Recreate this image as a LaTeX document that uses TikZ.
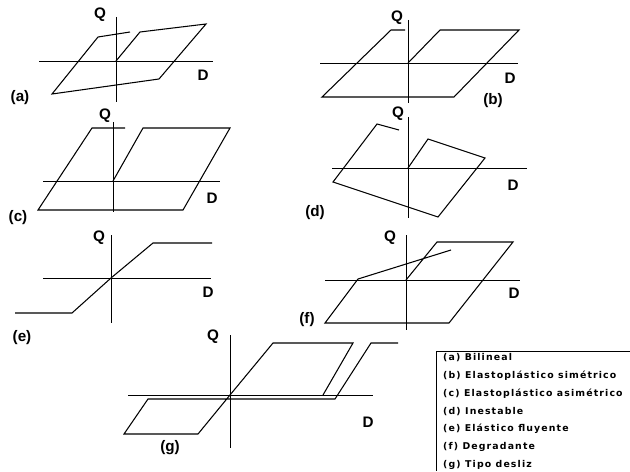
\documentclass[tikz,border=0pt]{standalone}
\usepackage{fontspec}
\setmainfont{Liberation Sans}
\newfontfamily\legfont[LetterSpace=12]{DejaVu Sans}
\usepackage{tikz}
\tikzset{
  axis/.style    = {line width=0.8pt},                 % Q and D axes
  curve/.style   = {line width=0.9pt, line join=miter},% hysteresis paths
  axlabel/.style = {font=\fontsize{13}{13}\selectfont\bfseries, inner sep=0pt},
  tag/.style     = {font=\fontsize{13}{13}\selectfont\bfseries, inner sep=0pt},
  legtext/.style = {font=\legfont\fontsize{8}{9}\selectfont\bfseries,
                    anchor=west, inner sep=0pt}
}

\begin{document}
\begin{tikzpicture}[x=0.3mm, y=-0.3mm]
  \useasboundingbox (0,0) rectangle (630,471);
  % (a) bilineal
  \draw[axis] (116,17) -- (116,102);
  \draw[axis] (39,61) -- (213,61);
  \draw[curve] (130,32) -- (98,37) -- (52,94) -- (159,79) -- (206,24) -- (140,32) -- (116,61);
  \node[axlabel] (Qa) at (100,15) {Q};
  \node[axlabel] (Da) at (203,75) {D};
  \node[tag] (ta) at (20,98) {(a)};
  % (b) elastoplastico simetrico
  \draw[axis] (408,20) -- (408,103);
  \draw[axis] (320,63) -- (518,63);
  \draw[curve] (405,30) -- (391,30) -- (322,97) -- (454,97) -- (519,30) -- (440,30) -- (408,63);
  \node[axlabel] (Qb) at (397,18) {Q};
  \node[axlabel] (Db) at (510,78) {D};
  \node[tag] (tb) at (493,101) {(b)};
  % (c) elastoplastico asimetrico
  \draw[axis] (113,122) -- (113,212);
  \draw[axis] (43,181) -- (220,181);
  \draw[curve] (125,128) -- (92,128) -- (38,210) -- (183,210) -- (230,128) -- (143,128) -- (113,181);
  \node[axlabel] (Qc) at (105,116) {Q};
  \node[axlabel] (Dc) at (212,198) {D};
  \node[tag] (tc) at (18,218) {(c)};
  % (d) inestable
  \draw[axis] (408,117) -- (408,218);
  \draw[axis] (332,168) -- (527,168);
  \draw[curve] (399,130) -- (377,124) -- (333,182) -- (438,217) -- (485,158) -- (428,139) -- (408,168);
  \node[axlabel] (Qd) at (398,114) {Q};
  \node[axlabel] (Dd) at (513,185) {D};
  \node[tag] (td) at (315,213) {(d)};
  % (e) elastico fluyente
  \draw[axis] (111,235) -- (111,323);
  \draw[axis] (43,278) -- (211,278);
  \draw[curve] (15,313) -- (72,313) -- (111,278) -- (153,243) -- (212,243);
  \node[axlabel] (Qe) at (99,238) {Q};
  \node[axlabel] (De) at (208,292) {D};
  \node[tag] (te) at (22,338) {(e)};
  % (f) degradante
  \draw[axis] (406,235) -- (406,330);
  \draw[axis] (325,280) -- (520,280);
  \draw[curve] (451,250) -- (358,279) -- (325,323) -- (449,323) -- (513,242) -- (437,242) -- (406,280);
  \node[axlabel] (Qf) at (390,238) {Q};
  \node[axlabel] (Df) at (514,293) {D};
  \node[tag] (tf) at (307,320) {(f)};
  % (g) tipo desliz
  \draw[axis] (230,335) -- (230,448);
  \draw[axis] (128,395) -- (373,395);
  \draw[curve] (230,395) -- (273,343) -- (353,343) -- (323,395);
  \draw[curve] (398,343) -- (371,343) -- (335,399) -- (148,399) -- (124,434) -- (198,434) -- (230,395);
  \node[axlabel] (Qg) at (213,337) {Q};
  \node[axlabel] (Dg) at (368,422) {D};
  \node[tag] (tg) at (170,448) {(g)};
  % legend
  \draw[axis] (630,351) -- (436,351) -- (436,471);
  \node[legtext] (La) at (443,358) {(a) Bilineal};
  \node[legtext] (Lb) at (443,376) {(b) Elastoplástico simétrico};
  \node[legtext] (Lc) at (443,394) {(c) Elastoplástico asimétrico};
  \node[legtext] (Ld) at (443,412) {(d) Inestable};
  \node[legtext] (Le) at (443,429) {(e) Elástico fluyente};
  \node[legtext] (Lf) at (443,447) {(f) Degradante};
  \node[legtext] (Lg) at (443,465) {(g) Tipo desliz};
\end{tikzpicture}
\end{document}
